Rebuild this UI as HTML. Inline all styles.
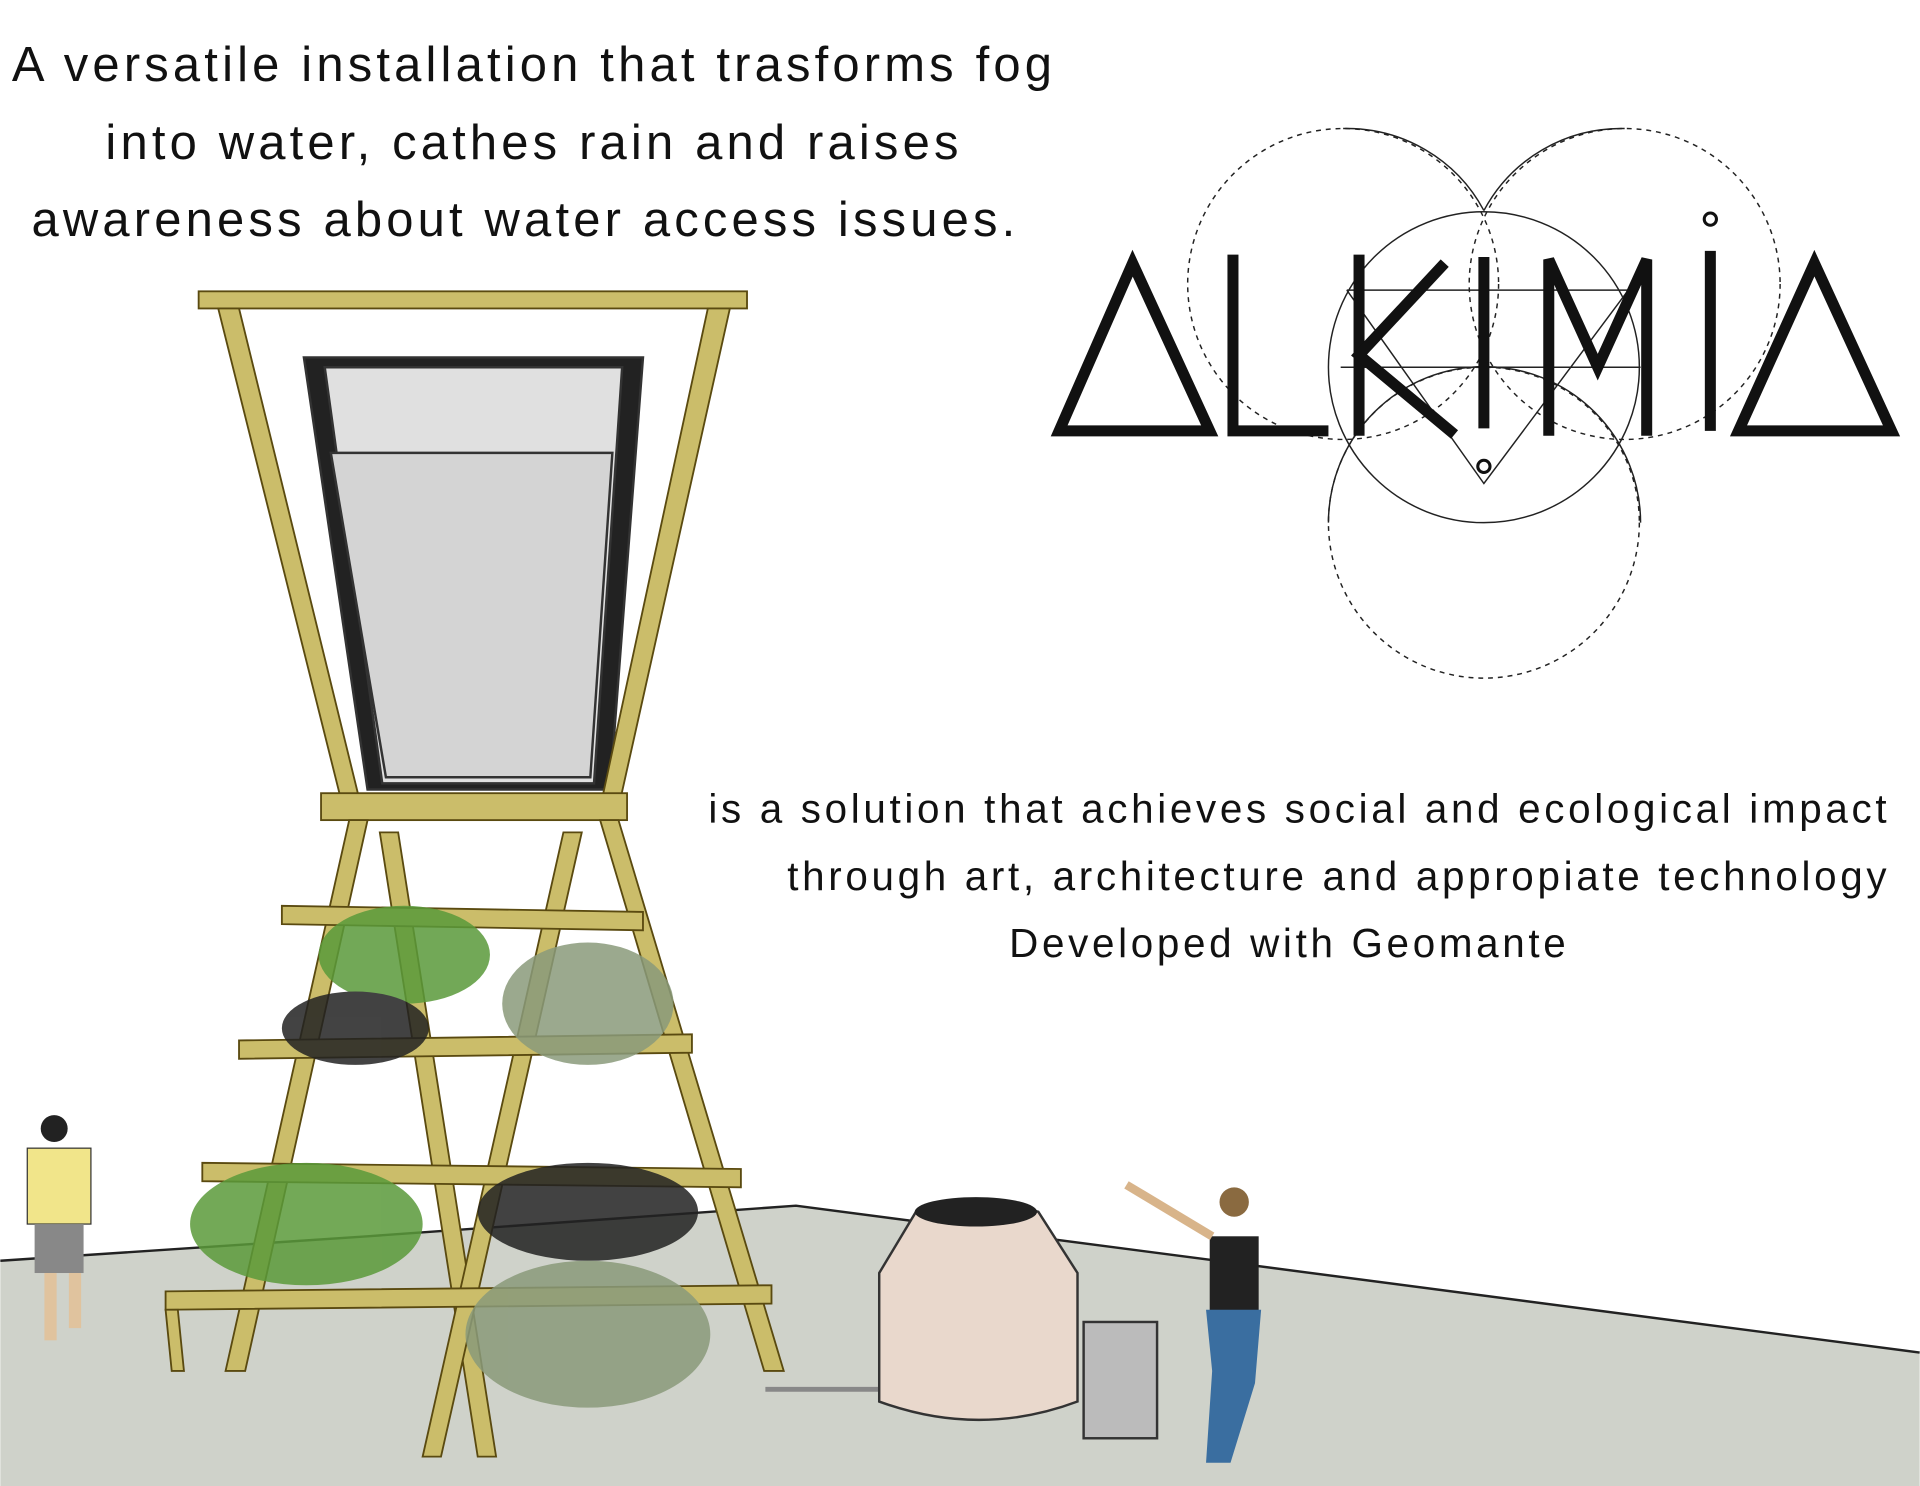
<!DOCTYPE html>
<html><head><meta charset="utf-8"><style>
html,body{margin:0;padding:0;background:#fff;}
svg{display:block;}
text{font-family:"Liberation Sans",sans-serif;fill:#111;}
</style></head><body>
<svg width="1920" height="1486" viewBox="0 0 1568 1214" xmlns="http://www.w3.org/2000/svg">
<rect width="1568" height="1214" fill="#fff"/>
<!-- ground -->
<polygon points="0,1030 300,1010 650,985 1568,1105 1568,1214 0,1214" fill="#cfd2ca"/>
<polyline points="0,1030 300,1010 650,985 1568,1105" fill="none" stroke="#222" stroke-width="2"/>
<!-- top text -->
<g font-size="40" text-anchor="middle" letter-spacing="3.4">
<text x="436" y="66">A versatile installation that trasforms fog</text>
<text x="436" y="130">into water, cathes rain and raises</text>
<text x="429" y="193">awareness about water access issues.</text>
</g>
<!-- logo circles -->
<g fill="none" stroke="#222" stroke-width="1.2">
<circle cx="1097" cy="232" r="127" stroke-dasharray="4 4"/>
<circle cx="1327" cy="232" r="127" stroke-dasharray="4 4"/>
<circle cx="1212" cy="427" r="127" stroke-dasharray="4 4"/>
<circle cx="1212" cy="300" r="127"/>
<path d="M1097,105 A127,127 0 0 1 1212,172"/>
<path d="M1327,105 A127,127 0 0 0 1212,172"/>
<path d="M1085,427 A127,127 0 0 1 1340,427"/>
<line x1="1100" y1="237" x2="1330" y2="237"/>
<line x1="1095" y1="300" x2="1340" y2="300"/>
<polyline points="1100,237 1212,395 1330,237"/>
</g>
<!-- logo letters -->
<g fill="none" stroke="#111" stroke-width="9" stroke-linejoin="miter">
<polygon points="925,215 865,352 988,352"/>
<polyline points="1007,208 1007,352 1085,352"/>
<line x1="1110" y1="208" x2="1110" y2="356"/>
<polyline points="1180,215 1110,290 1188,355"/>
<line x1="1212" y1="210" x2="1212" y2="350"/>
<polyline points="1265,356 1265,212 1305,300 1345,212 1345,356"/>
<line x1="1397" y1="205" x2="1397" y2="352"/>
<polygon points="1482,215 1420,352 1545,352"/>
</g>
<circle cx="1212" cy="381" r="5" fill="none" stroke="#111" stroke-width="2.5"/>
<circle cx="1397" cy="179" r="5" fill="none" stroke="#111" stroke-width="2.5"/>
<!-- middle text -->
<g font-size="33" text-anchor="end" letter-spacing="3">
<text x="1544" y="672">is a solution that achieves social and ecological impact</text>
<text x="1544" y="727">through art, architecture and appropiate technology</text>
</g>
<text x="1053" y="782" font-size="33" text-anchor="middle" letter-spacing="3">Developed with Geomante</text>
<!-- tower -->
<g stroke="#333" stroke-width="2">
<polygon points="248,292 525,292 498,645 300,645" fill="#222"/>
<polygon points="265,300 508,300 485,640 312,640" fill="#e0e0e0"/>
<polygon points="270,370 500,370 482,635 315,635" fill="#d4d4d4"/>
</g>
<g stroke="#5a4a10" stroke-width="1.5" fill="#cbbd6a">
<rect x="162" y="238" width="448" height="14"/>
<polygon points="178,252 195,252 295,660 280,660"/>
<polygon points="578,252 596,252 505,660 490,660"/>
<rect x="262" y="648" width="250" height="22"/>
<polygon points="285,670 300,670 200,1120 184,1120"/>
<polygon points="490,670 505,670 640,1120 624,1120"/>
<polygon points="310,680 325,680 405,1190 390,1190"/>
<polygon points="460,680 475,680 360,1190 345,1190"/>
<polygon points="230,740 525,745 525,760 230,755"/>
<polygon points="195,850 565,845 565,860 195,865"/>
<polygon points="165,950 605,955 605,970 165,965"/>
<polygon points="135,1055 630,1050 630,1065 135,1070"/>
<polygon points="135,1070 145,1070 150,1120 140,1120"/>
</g>
<g fill="#5a9a3a" opacity="0.85">
<ellipse cx="330" cy="780" rx="70" ry="40"/>
<ellipse cx="480" cy="820" rx="70" ry="50" fill="#8a9a7a"/>
<ellipse cx="290" cy="840" rx="60" ry="30" fill="#222"/>
<ellipse cx="250" cy="1000" rx="95" ry="50"/>
<ellipse cx="480" cy="990" rx="90" ry="40" fill="#222"/>
<ellipse cx="480" cy="1090" rx="100" ry="60" fill="#8a9a7a"/>
</g>
<!-- pipe -->
<polyline points="625,1135 720,1135" stroke="#888" stroke-width="4" fill="none"/>
<!-- tank -->
<path d="M748,990 Q797,975 848,990 L880,1040 L880,1145 Q800,1175 718,1145 L718,1040 Z" fill="#e9d8cc" stroke="#333" stroke-width="2"/>
<ellipse cx="797" cy="990" rx="50" ry="12" fill="#222"/>
<rect x="885" y="1080" width="60" height="95" fill="#bbb" stroke="#333" stroke-width="2"/>
<!-- people -->
<g fill="#222">
<circle cx="44" cy="922" r="11"/>
<rect x="22" y="938" width="52" height="62" fill="#f1e58a" stroke="#333"/>
<rect x="28" y="1000" width="40" height="40" fill="#888"/>
<rect x="36" y="1040" width="10" height="55" fill="#e0c39e"/>
<rect x="56" y="1040" width="10" height="45" fill="#e0c39e"/>
<circle cx="1008" cy="982" r="12" fill="#8a6a40"/>
<rect x="988" y="1010" width="40" height="62"/>
<polygon points="985,1070 1030,1070 1025,1130 1005,1195 985,1195 990,1120" fill="#3a6ea0"/>
<line x1="990" y1="1010" x2="920" y2="968" stroke="#d8b48a" stroke-width="7"/>
</g>
</svg>
</body></html>
